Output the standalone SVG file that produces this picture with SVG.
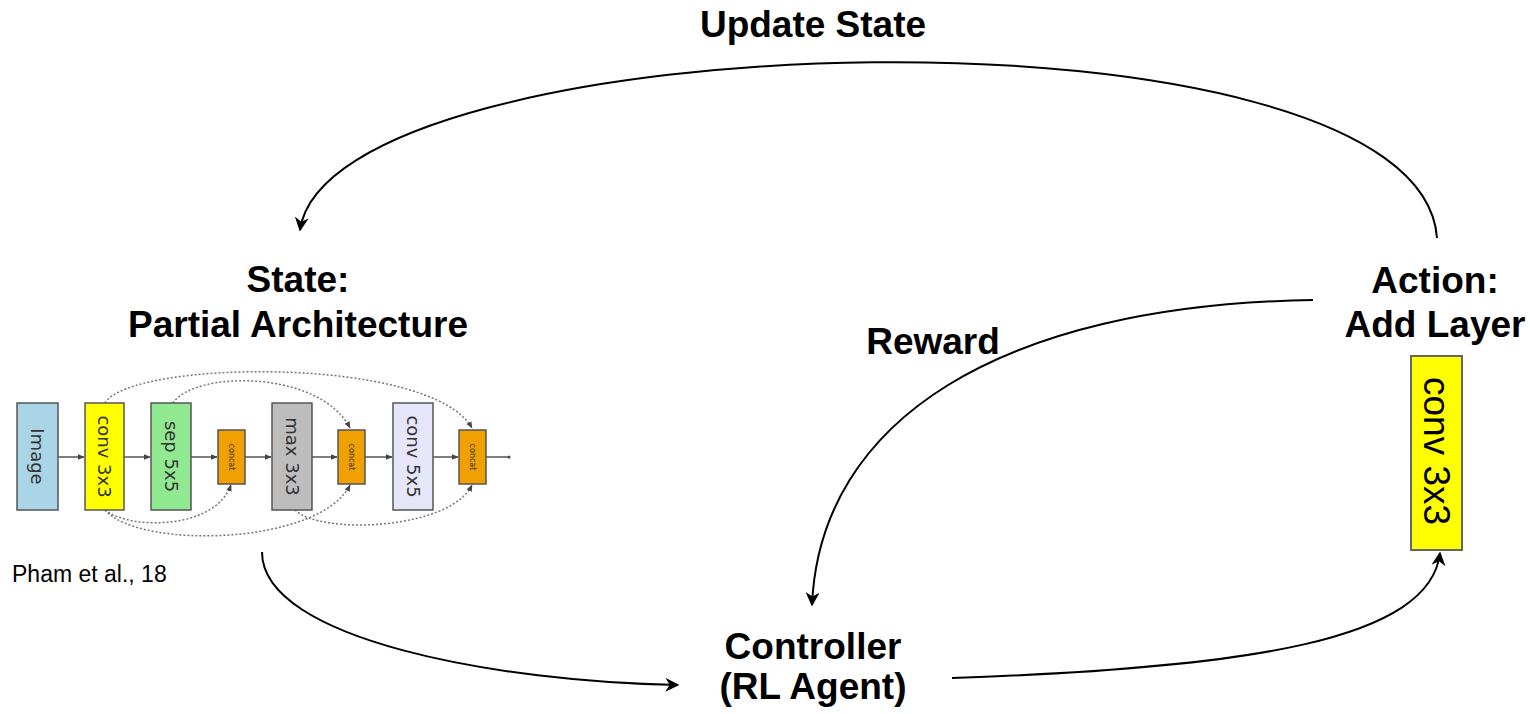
<svg xmlns="http://www.w3.org/2000/svg" width="1530" height="714" viewBox="0 0 1530 714">
  <style>
    .title { font-family: "Liberation Sans", Arial, sans-serif; font-weight: bold; font-size: 37px; fill: #000; text-anchor: middle; }
    .cite { font-family: "Liberation Sans", Arial, sans-serif; font-size: 23px; fill: #000; }
    .flow { fill: none; stroke: #000; stroke-width: 2; }
    .blk { stroke: #555; stroke-width: 1.5; }
    .blabel { font-family: "DejaVu Sans", sans-serif; font-size: 18px; fill: #333; text-anchor: middle; dominant-baseline: central; }
    .clabel { font-family: "DejaVu Sans", sans-serif; font-size: 8px; fill: #333; text-anchor: middle; dominant-baseline: central; }
    .edge { fill: none; stroke: #555; stroke-width: 1.5; }
    .skip { fill: none; stroke: #777; stroke-width: 1.5; stroke-dasharray: 2 2; }
  </style>
  <defs>
    <marker id="arrowBig" viewBox="0 0 10 10" refX="9" refY="5" markerWidth="14" markerHeight="14" markerUnits="userSpaceOnUse" orient="auto">
      <path d="M0,0 L10,5 L0,10 L3,5 Z" fill="#000"/>
    </marker>
    <marker id="tip" viewBox="0 0 10 10" refX="9" refY="5" markerWidth="7" markerHeight="7" markerUnits="userSpaceOnUse" orient="auto">
      <path d="M0,1 L10,5 L0,9 Z" fill="#444"/>
    </marker>
  </defs>

  <!-- main loop connectors -->
  <g id="connectors">
    <path class="flow" d="M1437,238 C1420,-10 330,20 300,230" marker-end="url(#arrowBig)"/>
    <path class="flow" d="M1313,300 C1000,305 820,420 812,605" marker-end="url(#arrowBig)"/>
    <path class="flow" d="M262,552 C262,640 500,682 678,685" marker-end="url(#arrowBig)"/>
    <path class="flow" d="M952,678 C1250,668 1430,640 1440,553" marker-end="url(#arrowBig)"/>
  </g>

  <text class="title" x="813" y="37">Update State</text>
  <text class="title" x="933" y="354">Reward</text>

  <!-- state: partial architecture -->
  <g id="state">
    <text class="title" x="298" y="292">State:</text>
    <text class="title" x="298" y="337">Partial Architecture</text>

    <!-- sequential edges -->
    <g>
      <path class="edge" d="M58,457 H84" marker-end="url(#tip)"/>
      <path class="edge" d="M124,457 H150" marker-end="url(#tip)"/>
      <path class="edge" d="M191,457 H217" marker-end="url(#tip)"/>
      <path class="edge" d="M245,457 H271" marker-end="url(#tip)"/>
      <path class="edge" d="M312,457 H337" marker-end="url(#tip)"/>
      <path class="edge" d="M365,457 H392" marker-end="url(#tip)"/>
      <path class="edge" d="M433,457 H458" marker-end="url(#tip)"/>
      <path class="edge" d="M486,457 H508"/>
      <circle cx="509" cy="457" r="1.5" fill="#444"/>
    </g>

    <!-- skip connections -->
    <g>
      <path class="skip" d="M105,403 C130,360 430,355 472,428" marker-end="url(#tip)"/>
      <path class="skip" d="M173,403 C195,370 320,370 350,428" marker-end="url(#tip)"/>
      <path class="skip" d="M105,510 C130,530 215,530 231,485" marker-end="url(#tip)"/>
      <path class="skip" d="M105,510 C140,550 320,545 350,485" marker-end="url(#tip)"/>
      <path class="skip" d="M295,510 C320,535 450,530 472,485" marker-end="url(#tip)"/>
    </g>

    <!-- layer blocks -->
    <g>
      <rect class="blk" x="17" y="403" width="41" height="107" fill="#a9d5e6"/>
      <text class="blabel" transform="translate(37.5,456.5) rotate(90)">Image</text>
      <rect class="blk" x="85" y="403" width="39" height="107" fill="#ffff00"/>
      <text class="blabel" transform="translate(104.5,456.5) rotate(90)">conv 3x3</text>
      <rect class="blk" x="151" y="403" width="40" height="107" fill="#90e890"/>
      <text class="blabel" transform="translate(171,456.5) rotate(90)">sep 5x5</text>
      <rect class="blk" x="218" y="430" width="27" height="54" fill="#f0a000"/>
      <text class="clabel" transform="translate(231.5,457) rotate(90)">concat</text>
      <rect class="blk" x="272" y="403" width="40" height="107" fill="#bdbdbd"/>
      <text class="blabel" transform="translate(292,456.5) rotate(90)">max 3x3</text>
      <rect class="blk" x="338" y="430" width="27" height="54" fill="#f0a000"/>
      <text class="clabel" transform="translate(351.5,457) rotate(90)">concat</text>
      <rect class="blk" x="393" y="403" width="40" height="107" fill="#e6e6fa"/>
      <text class="blabel" transform="translate(413,456.5) rotate(90)">conv 5x5</text>
      <rect class="blk" x="459" y="430" width="27" height="54" fill="#f0a000"/>
      <text class="clabel" transform="translate(472.5,457) rotate(90)">concat</text>
    </g>

    <text class="cite" x="12" y="582">Pham et al., 18</text>
  </g>

  <!-- action: add layer -->
  <g id="action">
    <text class="title" x="1435" y="293">Action:</text>
    <text class="title" x="1435" y="337">Add Layer</text>
    <rect x="1411" y="356" width="51" height="194" fill="#ffff00" stroke="#666" stroke-width="2"/>
    <text transform="translate(1436.5,451) rotate(90)" font-family="Liberation Sans, Arial, sans-serif" font-size="37" fill="#000" text-anchor="middle" dominant-baseline="central">conv 3x3</text>
  </g>

  <!-- controller -->
  <g id="controller">
    <text class="title" x="813" y="659">Controller</text>
    <text class="title" x="813" y="699">(RL Agent)</text>
  </g>
</svg>
